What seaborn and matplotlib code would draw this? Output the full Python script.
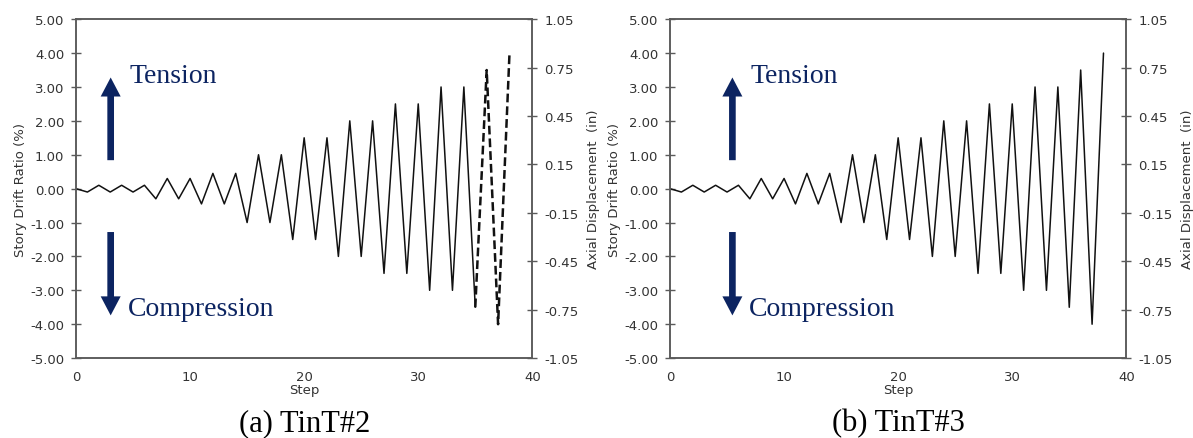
import numpy as np
import pandas as pd
import matplotlib
matplotlib.use("Agg")
import matplotlib.pyplot as plt
import seaborn as sns

sns.set_style("white")
plt.rcParams['font.family'] = ['DejaVu Sans']

# loading protocol
steps = list(range(0, 39))
drift = [0.0, -0.1, 0.1, -0.1, 0.1, -0.1, 0.1,
         -0.3, 0.3, -0.3, 0.3, -0.45, 0.45, -0.45, 0.45,
         -1.0, 1.0, -1.0, 1.0, -1.5, 1.5, -1.5, 1.5,
         -2.0, 2.0, -2.0, 2.0, -2.5, 2.5, -2.5, 2.5,
         -3.0, 3.0, -3.0, 3.0, -3.5, 3.5, -4.0, 4.0]
# TinT#2: the last cycles (from step 35) are drawn dashed
dash_from_a = 35
panel_titles = ["(a) TinT#2", "(b) TinT#3"]
left_ticks = [-5, -4, -3, -2, -1, 0, 1, 2, 3, 4, 5]
right_ticks = [-1.05, -0.75, -0.45, -0.15, 0.15, 0.45, 0.75, 1.05]
x_ticks = [0, 10, 20, 30, 40]

df = pd.DataFrame({'step': steps, 'drift': drift})

NAVY = '#0c2461'
SPINE = '#5a5a5a'
TXT = '#333333'
SERIF = ['Liberation Serif', 'DejaVu Serif']

fig = plt.figure(figsize=(11.93, 4.39), dpi=100)
positions = [[0.0637, 0.182, 0.3825, 0.772], [0.5616, 0.182, 0.3825, 0.772]]
arrow_x = [3.04, 5.47]
text_x = [4.7, 7.1]


def style_axis(a):
    for s in a.spines.values():
        s.set_color(SPINE)
        s.set_linewidth(1.1)
    a.tick_params(direction='inout', length=7, width=1.0, color=SPINE,
                  labelsize=9.5, labelcolor=TXT, pad=5)


for i, pos in enumerate(positions):
    ax = fig.add_axes(pos)
    if i == 0:
        solid = df[df['step'] <= dash_from_a]
        dashed = df[df['step'] >= dash_from_a]
        sns.lineplot(data=solid, x='step', y='drift', ax=ax, color='#111111', lw=1.1)
        sns.lineplot(data=dashed, x='step', y='drift', ax=ax, color='#111111',
                     lw=1.8, linestyle=(0, (3.5, 1.6)))
    else:
        sns.lineplot(data=df, x='step', y='drift', ax=ax, color='#111111', lw=1.1)

    ax.set_xlim(0, 40)
    ax.set_ylim(-5, 5)
    ax.set_xticks(x_ticks)
    ax.set_yticks(left_ticks)
    ax.set_yticklabels([f"{t:.2f}" for t in left_ticks])
    ax.set_xlabel("Step", fontsize=9.5, color=TXT, labelpad=0)
    ax.set_ylabel("Story Drift Ratio (%)", fontsize=9.5, color=TXT, labelpad=2)
    style_axis(ax)

    ax2 = ax.twinx()
    ax2.set_ylim(-1.05, 1.05)
    ax2.set_yticks(right_ticks)
    ax2.set_yticklabels([f"{t:.2f}" for t in right_ticks])
    ax2.set_ylabel("Axial Displacement  (in)", fontsize=9.5, color=TXT, labelpad=6)
    style_axis(ax2)

    # tension / compression arrows
    arr = dict(arrowstyle='simple,head_length=1.37,head_width=1.44,tail_width=0.48',
               mutation_scale=10, color=NAVY, shrinkA=0, shrinkB=0, lw=0)
    ax.annotate('', xy=(arrow_x[i], 3.28), xytext=(arrow_x[i], 0.84), arrowprops=arr)
    ax.annotate('', xy=(arrow_x[i], -3.74), xytext=(arrow_x[i], -1.28), arrowprops=arr)
    ax.text(text_x[i], 3.35, "Tension", color=NAVY, fontsize=20, family=SERIF,
            ha='left', va='center')
    ax.text(text_x[i] - 0.15, -3.55, "Compression", color=NAVY, fontsize=20,
            family=SERIF, ha='left', va='center')

    fig.text(pos[0] + pos[2] / 2, 0.035, panel_titles[i], fontsize=22, family=SERIF,
             ha='center', va='center', color='black')

fig.savefig("out.png", dpi=100)
